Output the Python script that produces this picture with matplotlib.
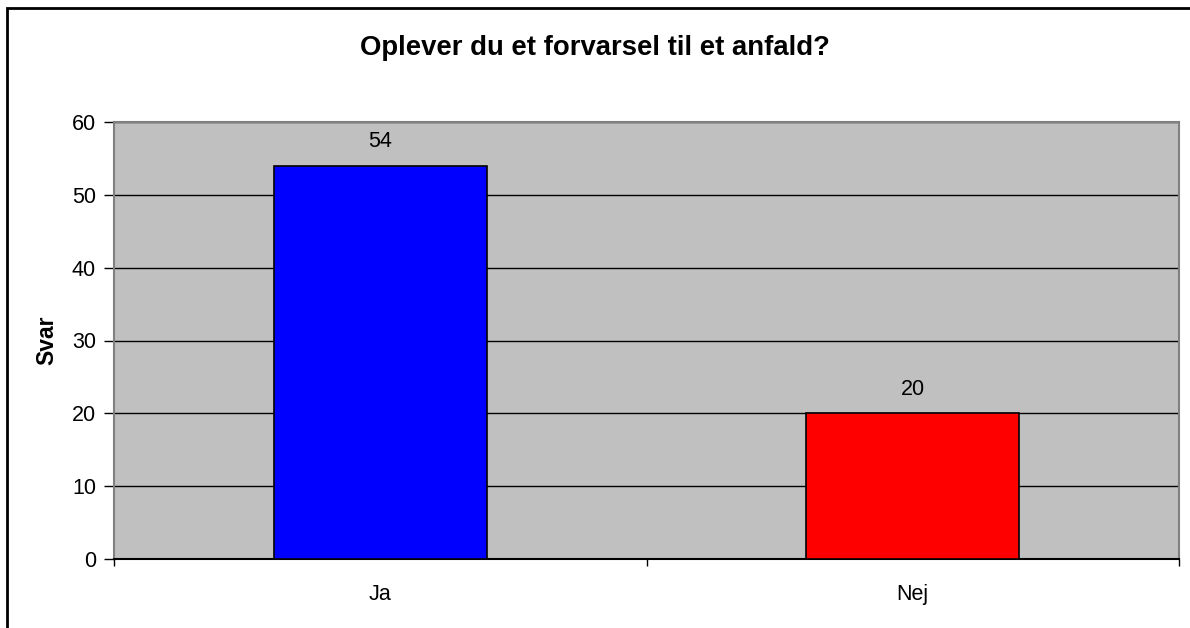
import numpy as np
import matplotlib.pyplot as plt
from matplotlib.patches import Rectangle

plt.rcParams['font.family'] = ['Liberation Sans', 'DejaVu Sans']

categories = ['Ja', 'Nej']
values = [54, 20]
colors = ['#0000ff', '#ff0000']

fig = plt.figure(figsize=(11.9, 6.28), dpi=100)
ax = fig.add_axes([114 / 1190, 1 - 559 / 628, (1179 - 114) / 1190, (559 - 122) / 628])

x = np.arange(len(categories))
bars = ax.bar(x, values, width=0.4, color=colors, edgecolor='black', linewidth=1.2, zorder=3)
for b, v in zip(bars, values):
    ax.annotate(str(v), (b.get_x() + b.get_width() / 2, v), xytext=(0, 17.5),
                textcoords='offset points', ha='center', va='center', fontsize=15.5)

ax.set_facecolor('#c0c0c0')
ax.set_xlim(-0.5, len(categories) - 0.5)
ax.set_ylim(0, 60)
ax.set_yticks(np.arange(0, 61, 10))
ax.grid(axis='y', color='black', linewidth=1, zorder=1)
ax.set_axisbelow(True)

ax.set_xticks(x)
ax.set_xticklabels(categories, fontsize=15.5)
ax.set_xticks(np.arange(-0.5, len(categories), 1), minor=True)
ax.tick_params(axis='x', which='major', length=0, pad=18)
ax.tick_params(axis='x', which='minor', length=5, color='black', width=1)
ax.tick_params(axis='y', length=7, color='black', width=1, labelsize=15.5, pad=6)

for s in ax.spines.values():
    s.set_color('#808080')
    s.set_linewidth(1.5)
ax.spines['bottom'].set_color('black')

ax.set_ylabel('Svar', fontsize=16.5, fontweight='bold', labelpad=10)
fig.text(0.5, 1 - 48 / 628, 'Oplever du et forvarsel til et anfald?', ha='center', va='center',
         fontsize=19.8, fontweight='bold')

fig.patches.append(Rectangle((7 / 1190, -0.1), 1.2, 1.1 - 8 / 628, transform=fig.transFigure,
                             fill=False, edgecolor='black', linewidth=2))

fig.savefig('out.png', dpi=100)
